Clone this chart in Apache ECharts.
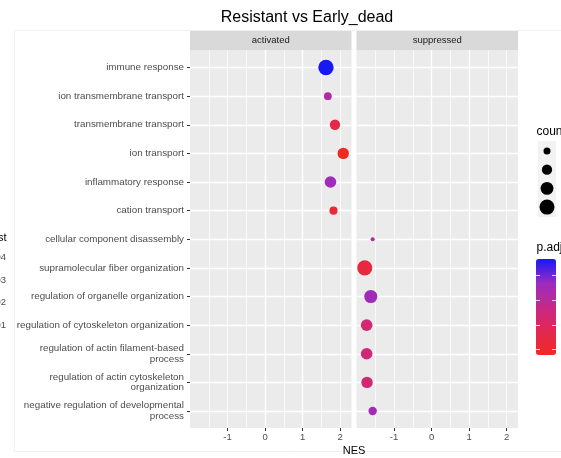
<!DOCTYPE html>
<html>
<head>
<meta charset="utf-8">
<script src="https://cdn.jsdelivr.net/npm/echarts@6/dist/echarts.min.js"></script>
<style>
  html, body { margin: 0; padding: 0; background: #ffffff; }
  #chart { width: 561px; height: 458px; }
</style>
</head>
<body>
<div id="chart"></div>
<script>
// GSEA dot plot: Resistant vs Early_dead, faceted by direction
const activatedTerms = [
  'immune response',
  'ion transmembrane transport',
  'transmembrane transport',
  'ion transport',
  'inflammatory response',
  'cation transport'
];
const activatedNES   = [1.62, 1.67, 1.86, 2.08, 1.74, 1.82];
const activatedCount = [42, 12, 20, 24, 25, 13];
const activatedPadj  = [0.0467, 0.0318, 0.0154, 0.0076, 0.0358, 0.0115];

const suppressedTerms = [
  'cellular component disassembly',
  'supramolecular fiber organization',
  'regulation of organelle organization',
  'regulation of cytoskeleton organization',
  'regulation of actin filament-based\nprocess',
  'regulation of actin cytoskeleton\norganization',
  'negative regulation of developmental\nprocess'
];
const suppressedNES   = [-1.57, -1.78, -1.62, -1.73, -1.73, -1.72, -1.57];
const suppressedCount = [4, 40, 31, 25, 25, 24, 14];
const suppressedPadj  = [0.0311, 0.0135, 0.0357, 0.0232, 0.0240, 0.0233, 0.0350];

const facetNames  = ['activated', 'suppressed'];
const nesTicks    = [-1, 0, 1, 2];
const countBreaks = [10, 20, 30, 40];
const padjBreaks  = [0.01, 0.02, 0.03, 0.04];

const categories = activatedTerms.concat(suppressedTerms);

// ---- layout ----
const FONT = "'Liberation Sans', Arial, Helvetica, sans-serif";
const panels = [{ left: 190, width: 161.5 }, { left: 356.5, width: 161.5 }];
const panelTop = 50, panelBottom = 428;
const rowTop = 67.5, rowBottom = 411;
const xMin = -2, xMax = 2.3;
const padjColors = ['#EE2A22', '#E22752', '#C82888', '#9A2CC0', '#1818F5'];

// point diameter from gene count (area-style scale)
const sizeOf = c => -1 + 2.53 * Math.sqrt(c);

const allPadj = activatedPadj.concat(suppressedPadj);
const padjMin = Math.min(...allPadj), padjMax = Math.max(...allPadj);

function facetData(terms, nes, padj, count) {
  return terms.map((t, i) => [nes[i], t, padj[i], count[i]]);
}

const chart = echarts.init(document.getElementById('chart'), null, { renderer: 'canvas' });

const grids = [];
panels.forEach(p => grids.push({
  left: p.left, width: p.width, top: panelTop, height: panelBottom - panelTop,
  show: true, backgroundColor: '#EBEBEB', borderWidth: 0, containLabel: false
}));
panels.forEach(p => grids.push({
  left: p.left, width: p.width, top: rowTop, height: rowBottom - rowTop, containLabel: false
}));

const xAxes = [];
// major axes with labels (grids 0,1)
[0, 1].forEach(g => xAxes.push({
  gridIndex: g, type: 'value', min: xMin, max: xMax, interval: 1, position: 'bottom',
  axisLine: { show: false, onZero: false },
  axisTick: { show: true, length: 3, customValues: nesTicks, lineStyle: { color: '#333333', width: 1 } },
  axisLabel: { show: true, customValues: nesTicks, margin: 4, fontSize: 9.5, color: '#4D4D4D', fontFamily: FONT,
    formatter: v => (nesTicks.indexOf(v) >= 0 ? String(v) : '') },
  splitLine: { show: true, showMinLine: false, showMaxLine: false, lineStyle: { color: '#FFFFFF', width: 1.4 } }
}));
// minor grid lines (grids 0,1)
[0, 1].forEach(g => xAxes.push({
  gridIndex: g, type: 'value', min: xMin, max: xMax, interval: 0.5, position: 'top',
  axisLine: { show: false, onZero: false }, axisTick: { show: false }, axisLabel: { show: false },
  splitLine: { show: true, showMinLine: false, showMaxLine: false, lineStyle: { color: '#FFFFFF', width: 0.7 } }
}));
// data axes (grids 2,3)
[2, 3].forEach(g => xAxes.push({
  gridIndex: g, type: 'value', min: xMin, max: xMax, show: false,
  axisLine: { onZero: false }, splitLine: { show: false }
}));

const yAxes = [
  { gridIndex: 0, type: 'value', show: false, min: 0, max: 1, axisLine: { onZero: false }, splitLine: { show: false } },
  { gridIndex: 1, type: 'value', show: false, min: 0, max: 1, axisLine: { onZero: false }, splitLine: { show: false } },
  { gridIndex: 2, type: 'category', data: categories, inverse: true, boundaryGap: false, position: 'left',
    axisLine: { show: false, onZero: false },
    axisTick: { show: true, length: 3, lineStyle: { color: '#333333', width: 1 } },
    axisLabel: { show: true, margin: 6, fontSize: 9.8, lineHeight: 10.5, color: '#4D4D4D', fontFamily: FONT, interval: 0 },
    splitLine: { show: true, lineStyle: { color: '#FFFFFF', width: 1.4 } } },
  { gridIndex: 3, type: 'category', data: categories, inverse: true, boundaryGap: false, position: 'left',
    axisLine: { show: false, onZero: false }, axisTick: { show: false }, axisLabel: { show: false },
    splitLine: { show: true, lineStyle: { color: '#FFFFFF', width: 1.4 } } }
];

const series = [
  { type: 'scatter', xAxisIndex: 4, yAxisIndex: 2, clip: false,
    data: facetData(activatedTerms, activatedNES, activatedPadj, activatedCount),
    symbolSize: v => sizeOf(v[3]), itemStyle: { opacity: 1 }, emphasis: { disabled: true } },
  { type: 'scatter', xAxisIndex: 5, yAxisIndex: 3, clip: false,
    data: facetData(suppressedTerms, suppressedNES, suppressedPadj, suppressedCount),
    symbolSize: v => sizeOf(v[3]), itemStyle: { opacity: 1 }, emphasis: { disabled: true } }
];

// colour bar geometry
const bar = { x: 536, y: 259, w: 20, h: 96 };
const padjToY = v => bar.y + (1 - (v - padjMin) / (padjMax - padjMin)) * bar.h;

const graphics = [];
// title
graphics.push({ type: 'text', x: 307, y: 18,
  style: { text: 'Resistant vs Early_dead', font: '16px ' + FONT, fill: '#000000', textAlign: 'center', textVerticalAlign: 'middle' } });
// outer frame
graphics.push({ type: 'rect', shape: { x: 14.5, y: 30.5, width: 600, height: 421 },
  style: { fill: 'none', stroke: '#F0F0F0', lineWidth: 1 }, z: -1 });
// facet strips
panels.forEach((p, i) => {
  graphics.push({ type: 'rect', shape: { x: p.left, y: 31, width: p.width, height: panelTop - 31 },
    style: { fill: '#D9D9D9' } });
  graphics.push({ type: 'text', x: p.left + p.width / 2, y: 40.5,
    style: { text: facetNames[i], font: '9.5px ' + FONT, fill: '#1A1A1A', textAlign: 'center', textVerticalAlign: 'middle' } });
});
// x axis title
graphics.push({ type: 'text', x: (panels[0].left + panels[1].left + panels[1].width) / 2, y: 450.5,
  style: { text: 'NES', font: '11px ' + FONT, fill: '#000000', textAlign: 'center', textVerticalAlign: 'middle' } });

// size legend
graphics.push({ type: 'text', x: 536.5, y: 132,
  style: { text: 'count', font: '12px ' + FONT, fill: '#000000', textAlign: 'left', textVerticalAlign: 'middle' } });
graphics.push({ type: 'rect', shape: { x: 538, y: 141, width: 18, height: 76 }, style: { fill: '#F2F2F2' } });
countBreaks.forEach((c, k) => {
  const cy = 151 + k * 18.7;
  graphics.push({ type: 'circle', shape: { cx: 547, cy: cy, r: sizeOf(c) / 2 }, style: { fill: '#000000' } });
  graphics.push({ type: 'text', x: 561, y: cy,
    style: { text: String(c), font: '9.5px ' + FONT, fill: '#4D4D4D', textAlign: 'left', textVerticalAlign: 'middle' } });
});

// colour legend
graphics.push({ type: 'text', x: 536.5, y: 248,
  style: { text: 'p.adjust', font: '12px ' + FONT, fill: '#000000', textAlign: 'left', textVerticalAlign: 'middle' } });
padjBreaks.forEach(v => {
  const ty = Math.round(padjToY(v)) + 0.5;
  graphics.push({ type: 'line', shape: { x1: bar.x, y1: ty, x2: bar.x + 4, y2: ty },
    style: { stroke: 'rgba(255,255,255,0.8)', lineWidth: 1 }, z: 200 });
  graphics.push({ type: 'line', shape: { x1: bar.x + bar.w - 4, y1: ty, x2: bar.x + bar.w, y2: ty },
    style: { stroke: 'rgba(255,255,255,0.8)', lineWidth: 1 }, z: 200 });
});

// neighbouring legend at the left margin
const sideLegendY = [257, 280, 302, 325];
graphics.push({ type: 'text', x: 6.5, y: 238,
  style: { text: 'p.adjust', font: '11px ' + FONT, fill: '#000000', textAlign: 'right', textVerticalAlign: 'middle' } });
padjBreaks.slice().reverse().forEach((v, i) => {
  graphics.push({ type: 'text', x: 6, y: sideLegendY[i],
    style: { text: v.toFixed(2), font: '9.5px ' + FONT, fill: '#4D4D4D', textAlign: 'right', textVerticalAlign: 'middle' } });
});

chart.setOption({
  animation: false,
  backgroundColor: '#FFFFFF',
  textStyle: { fontFamily: FONT },
  grid: grids,
  xAxis: xAxes,
  yAxis: yAxes,
  visualMap: [{
    type: 'continuous', min: padjMin, max: padjMax, dimension: 2, seriesIndex: [0, 1],
    inRange: { color: padjColors },
    show: true, calculable: false, hoverLink: false, padding: 0,
    left: bar.x, top: bar.y, itemWidth: bar.w, itemHeight: bar.h,
    orient: 'vertical', textGap: 0
  }],
  series: series,
  graphic: graphics
});
</script>
</body>
</html>
